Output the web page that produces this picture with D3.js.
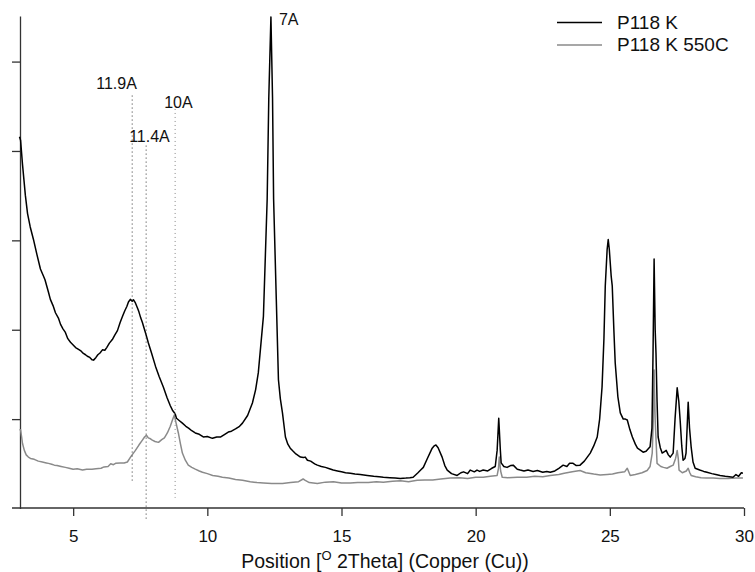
<!DOCTYPE html>
<html>
<head>
<meta charset="utf-8">
<script src="https://cdn.jsdelivr.net/npm/d3@7"></script>
<style>
  body { margin: 0; background: #fff; }
  svg text { font-family: "Liberation Sans", Arial, sans-serif; fill: #111; }
</style>
</head>
<body>
<svg class="xrd-svg" width="755" height="572"></svg>
<script>
// P118 K (air dried), [2theta, counts]
var theta_k = [3.00, 3.04, 3.11, 3.22, 3.30, 3.40, 3.52, 3.65, 3.78, 3.88, 3.95, 4.08, 4.15, 4.25, 4.34, 4.45, 4.53, 4.62, 4.71, 4.80, 4.90, 5.00, 5.09, 5.20, 5.30, 5.38, 5.46, 5.55, 5.62, 5.70, 5.76, 5.85, 5.92, 6.00, 6.09, 6.18, 6.25, 6.35, 6.46, 6.55, 6.65, 6.75, 6.84, 6.92, 7.00, 7.06, 7.13, 7.20, 7.25, 7.32, 7.40, 7.45, 7.52, 7.58, 7.70, 7.80, 7.92, 8.07, 8.20, 8.36, 8.50, 8.62, 8.70, 8.80, 8.85, 8.95, 9.07, 9.20, 9.30, 9.42, 9.55, 9.70, 9.85, 10.00, 10.19, 10.35, 10.50, 10.65, 10.78, 10.90, 11.05, 11.20, 11.31, 11.50, 11.68, 11.80, 11.90, 12.09, 12.23, 12.29, 12.37, 12.43, 12.47, 12.57, 12.65, 12.72, 12.80, 12.91, 13.00, 13.09, 13.20, 13.30, 13.47, 13.58, 13.65, 13.73, 13.85, 14.00, 14.10, 14.25, 14.40, 14.55, 14.69, 14.85, 15.00, 15.15, 15.33, 15.50, 15.70, 15.96, 16.20, 16.40, 16.56, 16.80, 17.00, 17.19, 17.40, 17.55, 17.67, 17.85, 17.95, 18.05, 18.20, 18.38, 18.45, 18.52, 18.60, 18.75, 18.85, 18.94, 19.10, 19.31, 19.45, 19.55, 19.70, 19.80, 19.95, 20.05, 20.15, 20.28, 20.45, 20.60, 20.73, 20.80, 20.86, 20.92, 20.95, 21.05, 21.17, 21.30, 21.40, 21.55, 21.66, 21.80, 21.95, 22.14, 22.30, 22.50, 22.65, 22.78, 22.95, 23.10, 23.26, 23.40, 23.50, 23.63, 23.75, 23.89, 24.05, 24.27, 24.40, 24.53, 24.62, 24.71, 24.78, 24.83, 24.90, 24.94, 24.98, 25.05, 25.09, 25.15, 25.20, 25.30, 25.39, 25.50, 25.58, 25.65, 25.75, 25.84, 25.95, 26.03, 26.15, 26.24, 26.35, 26.50, 26.57, 26.61, 26.65, 26.69, 26.72, 26.76, 26.80, 26.88, 26.95, 27.05, 27.10, 27.18, 27.25, 27.36, 27.43, 27.51, 27.57, 27.62, 27.68, 27.73, 27.80, 27.84, 27.88, 27.92, 27.97, 28.03, 28.10, 28.18, 28.35, 28.50, 28.62, 28.80, 28.95, 29.11, 29.30, 29.45, 29.59, 29.70, 29.80, 29.90, 29.96]
var counts_k = [4160, 4120, 3855, 3500, 3300, 3150, 3010, 2840, 2680, 2610, 2560, 2420, 2340, 2270, 2190, 2130, 2060, 2010, 1970, 1900, 1860, 1830, 1800, 1780, 1760, 1735, 1720, 1700, 1690, 1665, 1660, 1690, 1720, 1740, 1775, 1770, 1800, 1850, 1890, 1940, 1990, 2080, 2150, 2210, 2260, 2310, 2340, 2320, 2335, 2300, 2240, 2200, 2130, 2080, 1960, 1855, 1740, 1590, 1480, 1360, 1240, 1150, 1100, 1060, 1010, 985, 955, 920, 900, 870, 845, 830, 800, 805, 785, 800, 800, 830, 855, 865, 890, 920, 955, 1040, 1180, 1330, 1520, 2150, 3460, 4590, 5500, 4590, 3460, 2340, 1440, 1230, 1070, 800, 720, 675, 640, 610, 575, 570, 575, 540, 530, 500, 485, 470, 460, 445, 430, 420, 410, 400, 395, 385, 380, 370, 360, 355, 350, 345, 340, 335, 340, 345, 350, 400, 430, 460, 560, 675, 700, 710, 680, 575, 480, 430, 390, 370, 400, 410, 390, 430, 410, 430, 415, 430, 420, 450, 470, 650, 1010, 650, 510, 470, 460, 480, 485, 440, 430, 420, 430, 415, 425, 405, 415, 405, 420, 450, 485, 470, 505, 505, 480, 485, 530, 620, 700, 800, 1000, 1360, 1900, 2490, 2900, 3010, 2900, 2600, 2490, 2000, 1630, 1250, 1070, 1000, 1000, 990, 880, 800, 720, 675, 650, 630, 640, 690, 900, 1740, 2790, 2000, 1740, 1200, 800, 680, 620, 640, 650, 600, 575, 620, 1000, 1350, 1200, 990, 700, 540, 560, 620, 900, 1190, 900, 690, 520, 450, 430, 415, 405, 390, 380, 370, 360, 355, 350, 380, 360, 400, 395]

// P118 K heated to 550C
var theta_550 = [3.00, 3.04, 3.08, 3.11, 3.18, 3.25, 3.33, 3.41, 3.55, 3.70, 3.85, 4.00, 4.08, 4.20, 4.30, 4.40, 4.55, 4.71, 4.85, 5.00, 5.15, 5.35, 5.50, 5.70, 5.85, 6.04, 6.15, 6.30, 6.40, 6.50, 6.58, 6.75, 6.90, 7.02, 7.15, 7.32, 7.45, 7.58, 7.66, 7.73, 7.80, 7.88, 7.95, 8.05, 8.18, 8.30, 8.40, 8.51, 8.62, 8.70, 8.77, 8.84, 8.92, 9.00, 9.07, 9.18, 9.29, 9.42, 9.55, 9.70, 9.82, 10.00, 10.20, 10.40, 10.56, 10.80, 11.05, 11.31, 11.60, 11.85, 12.09, 12.40, 12.80, 13.10, 13.40, 13.57, 13.65, 13.80, 14.10, 14.40, 14.70, 15.00, 15.33, 15.60, 16.00, 16.30, 16.56, 16.90, 17.20, 17.50, 17.82, 18.10, 18.40, 18.70, 19.05, 19.40, 19.70, 20.00, 20.28, 20.55, 20.80, 20.85, 20.88, 20.93, 20.99, 21.20, 21.55, 21.90, 22.20, 22.50, 22.78, 23.10, 23.30, 23.60, 23.89, 24.10, 24.40, 24.64, 24.90, 25.10, 25.30, 25.55, 25.65, 25.76, 25.95, 26.20, 26.39, 26.50, 26.58, 26.62, 26.65, 26.69, 26.76, 26.90, 27.00, 27.13, 27.25, 27.36, 27.45, 27.51, 27.55, 27.58, 27.70, 27.85, 27.92, 27.98, 28.03, 28.20, 28.40, 28.60, 28.85, 29.10, 29.40, 29.70, 29.96]
var counts_550 = [880, 880, 800, 730, 650, 600, 575, 560, 550, 530, 520, 510, 505, 495, 485, 480, 470, 460, 450, 440, 445, 430, 440, 440, 445, 450, 465, 470, 500, 490, 505, 510, 510, 520, 580, 650, 710, 765, 800, 820, 790, 780, 765, 750, 740, 770, 790, 845, 920, 990, 1045, 950, 845, 720, 620, 540, 485, 460, 440, 420, 405, 390, 370, 360, 350, 340, 325, 315, 300, 290, 285, 280, 280, 290, 300, 330, 315, 290, 280, 295, 300, 285, 285, 290, 290, 300, 295, 305, 310, 300, 315, 320, 320, 330, 340, 345, 335, 350, 350, 360, 370, 450, 575, 420, 350, 345, 350, 350, 360, 355, 370, 380, 395, 410, 425, 400, 385, 375, 380, 385, 400, 410, 450, 370, 380, 400, 425, 470, 620, 1000, 1550, 990, 505, 470, 460, 450, 470, 485, 560, 650, 560, 430, 400, 420, 450, 400, 370, 355, 345, 340, 340, 335, 335, 340, 340]

var series_names = ["P118 K", "P118 K 550C"]
var series_colors = ["#000000", "#8a8a8a"]

// d-spacing marks
var peak_labels = ["11.9A", "11.4A", "10A"]
var peak_theta = [7.20, 7.72, 8.80]
var peak_top = [4620, 4060, 4470]
var peak_bottom = [280, -130, 120]

var x_ticks = [5, 10, 15, 20, 25, 30]
var y_ticks = [1000, 2000, 3000, 4000, 5000]

var svg = d3.select(".xrd-svg")

var xScale = d3.scaleLinear().domain([3, 30]).range([19.5, 744])
var yScale = d3.scaleLinear().domain([0, 5510]).range([508.5, 16])

function drawAxes() {
    var xAxis = svg.append("g")
      .attr("class", "x axis")
      .attr("transform", "translate(0, 508)")
      .call(d3.axisBottom(xScale).tickValues(x_ticks).tickSize(8).tickSizeOuter(0).tickPadding(14))
    xAxis.select(".domain").attr("d", "M12,0H744")
    xAxis.selectAll("text").attr("font-size", "17px").attr("font-family", null)

    var yAxis = svg.append("g")
      .attr("class", "y axis")
      .attr("transform", "translate(20, 0)")
      .call(d3.axisLeft(yScale).tickValues(y_ticks).tickSize(8).tickSizeOuter(0).tickFormat(""))

    svg.selectAll(".axis path, .axis line").attr("stroke", "#333").attr("stroke-width", 1.3)

    var title = svg.append("text")
      .attr("x", 385)
      .attr("y", 568)
      .attr("text-anchor", "middle")
      .attr("font-size", "19.5px")
    title.append("tspan").text("Position [")
    title.append("tspan").attr("font-size", "13px").attr("dy", -8).text("O")
    title.append("tspan").attr("dy", 8).text(" 2Theta] (Copper (Cu))")
}

function drawMarks() {
    peak_labels.forEach(function(label, i) {
        svg.append("line")
          .attr("x1", xScale(peak_theta[i])).attr("x2", xScale(peak_theta[i]))
          .attr("y1", yScale(peak_top[i])).attr("y2", yScale(peak_bottom[i]))
          .attr("stroke", i == 2 ? "#888" : "#333")
          .attr("stroke-width", 1)
          .attr("stroke-dasharray", "1,3")
    })
    var offsets = [[-36, -7], [-17, -4], [-11, -1]]
    peak_labels.forEach(function(label, i) {
        svg.append("text")
          .attr("x", xScale(peak_theta[i]) + offsets[i][0])
          .attr("y", yScale(peak_top[i]) + offsets[i][1])
          .attr("font-size", "16px")
          .text(label)
    })
    // 7A label next to the basal kaolinite peak
    var top = d3.maxIndex(counts_k)
    svg.append("text")
      .attr("x", xScale(theta_k[top]) + 8)
      .attr("y", yScale(counts_k[top]) + 8)
      .attr("font-size", "16px")
      .text("7A")
}

function drawLines() {
    var line = d3.line()
      .x(d => xScale(d[0]))
      .y(d => yScale(d[1]))

    var gray = d3.zip(theta_550, counts_550)
    var black = d3.zip(theta_k, counts_k)

    svg.append("path").datum(gray)
      .attr("d", line)
      .attr("fill", "none")
      .attr("stroke", series_colors[1])
      .attr("stroke-width", 1.5)
      .attr("stroke-linejoin", "round")

    svg.append("path").datum(black)
      .attr("d", line)
      .attr("fill", "none")
      .attr("stroke", series_colors[0])
      .attr("stroke-width", 1.5)
      .attr("stroke-linejoin", "round")
}

function drawLegend() {
    var legend = svg.append("g").attr("class", "legend")
    series_names.forEach(function(name, i) {
        legend.append("line")
          .attr("x1", 557).attr("x2", 602)
          .attr("y1", 22.5 + i * 22.5).attr("y2", 22.5 + i * 22.5)
          .attr("stroke", series_colors[i])
          .attr("stroke-width", 1.3)
        legend.append("text")
          .attr("x", 617)
          .attr("y", 28.5 + i * 22.5)
          .attr("font-size", "19px")
          .text(name)
    })
}

drawAxes()
drawLines()
drawMarks()
drawLegend()
</script>
</body>
</html>
